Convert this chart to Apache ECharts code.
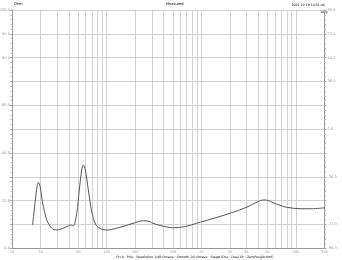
<!DOCTYPE html>
<html>
<head>
<meta charset="utf-8">
<script src="https://cdn.jsdelivr.net/npm/echarts@6/dist/echarts.min.js"></script>
<style>
  html, body { margin: 0; padding: 0; background: #fff; }
  #chart { width: 342px; height: 260px; }
</style>
</head>
<body>
<div id="chart"></div>
<script>
// impedance curve (Hz, Ohm)
const freqs = [16.5, 17.5, 18.5, 19, 19.8, 21.1, 23.3, 26.3, 29.7, 34.8, 39.3, 41.7, 44.4, 48.3, 51.4, 54.5, 56.7, 59.5, 64, 69.5, 77, 89, 104, 138, 191, 244, 287, 299, 366, 506, 673, 894, 1330, 2010, 3040, 3970, 4520, 5070, 5760, 6780, 7990, 11040, 14780, 20000]
const ohms = [9.8, 18.9, 26.6, 27.7, 25.9, 18.9, 11.9, 8.4, 7.7, 8.4, 9.4, 9.8, 9.4, 14.7, 24.5, 32.9, 35.0, 32.9, 24.5, 15.4, 9.8, 8.0, 7.7, 8.8, 10.5, 11.6, 11.2, 10.7, 9.6, 8.6, 9.1, 10.5, 12.5, 14.7, 17.3, 19.6, 20.3, 20.1, 19.1, 18.0, 17.2, 16.6, 16.6, 17.0]

const gridFreqs = [10, 20, 30, 40, 50, 60, 70, 80, 90, 100, 200, 300, 400, 500, 600, 700, 800, 900, 1000, 2000, 3000, 4000, 5000, 6000, 7000, 8000, 9000, 10000, 20000]
const labelFreqs = [10, 20, 50, 100, 200, 500, 1000, 2000, 3000, 5000, 10000, 20000]
const ohmLabels = [0, 20, 40, 60, 80, 90, 100]
const degLabels = [-90, -72, -36, 0, 36, 54, 72, 90]

const chart = echarts.init(document.getElementById('chart'))
const small = { fontSize: 3.6, color: '#999', fontFamily: 'DejaVu Sans' }

chart.setOption({
  animation: false,
  grid: { left: 12, right: 17.5, top: 10, bottom: 11.7, containLabel: false, outerBoundsMode: 'none' },
  graphic: [
    { type: 'text', left: 14, top: 2.5, style: { text: 'Ohm', ...small } },
    { type: 'text', left: 166, top: 2, style: { text: 'Measured', ...small } },
    { type: 'text', right: 17, top: 3.5, style: { text: '2022 10 10 14:51:46', ...small, fontSize: 3.2 } },
    { type: 'text', left: 321, top: 10.5, style: { text: 'Deg', ...small, fontSize: 3.2 } },
    { type: 'text', left: 116, top: 255.5, style: { text: 'CH A · Pink · Resolution 1/48 Octave · Smooth 1/6 Octave · Swept Sine · Dual Ch · ZeroPos@0.0mS', ...small, fontSize: 3.2 } }
  ],
  xAxis: {
    type: 'log',
    logBase: 10,
    min: 10,
    max: 20000,
    axisLine: { lineStyle: { color: '#999', width: 1 } },
    axisTick: { show: false, customValues: gridFreqs },
    axisLabel: {
      ...small,
      margin: 2,
      customValues: labelFreqs,
      formatter: v => v >= 1000 ? (v / 1000) + 'k' : String(v)
    },
    splitLine: { show: true, lineStyle: { color: '#d2d2d2', width: 1 } }
  },
  yAxis: [
    {
      type: 'value',
      min: 0,
      max: 100,
      interval: 10,
      axisLine: { show: true, lineStyle: { color: '#999' } },
      axisTick: { show: true, length: 2, lineStyle: { color: '#aaa' } },
      minorTick: { show: true, splitNumber: 5, length: 1.5, lineStyle: { color: '#bbb' } },
      axisLabel: { ...small, margin: 2, formatter: v => ohmLabels.includes(v) ? v.toFixed(1) : '' },
      splitLine: { lineStyle: { color: '#d2d2d2', width: 1 } }
    },
    {
      type: 'value',
      position: 'right',
      min: -90,
      max: 90,
      interval: 18,
      axisLine: { show: true, lineStyle: { color: '#999' } },
      axisTick: { show: true, length: 2, lineStyle: { color: '#aaa' } },
      minorTick: { show: true, splitNumber: 5, length: 1.5, lineStyle: { color: '#bbb' } },
      axisLabel: { ...small, margin: 3, formatter: v => degLabels.includes(v) ? v.toFixed(1) : '' },
      splitLine: { show: false }
    }
  ],
  series: [
    {
      type: 'line',
      yAxisIndex: 0,
      data: freqs.map((f, i) => [f, ohms[i]]),
      smooth: 0.3,
      showSymbol: false,
      lineStyle: { color: '#555', width: 1 }
    }
  ]
})
</script>
</body>
</html>
